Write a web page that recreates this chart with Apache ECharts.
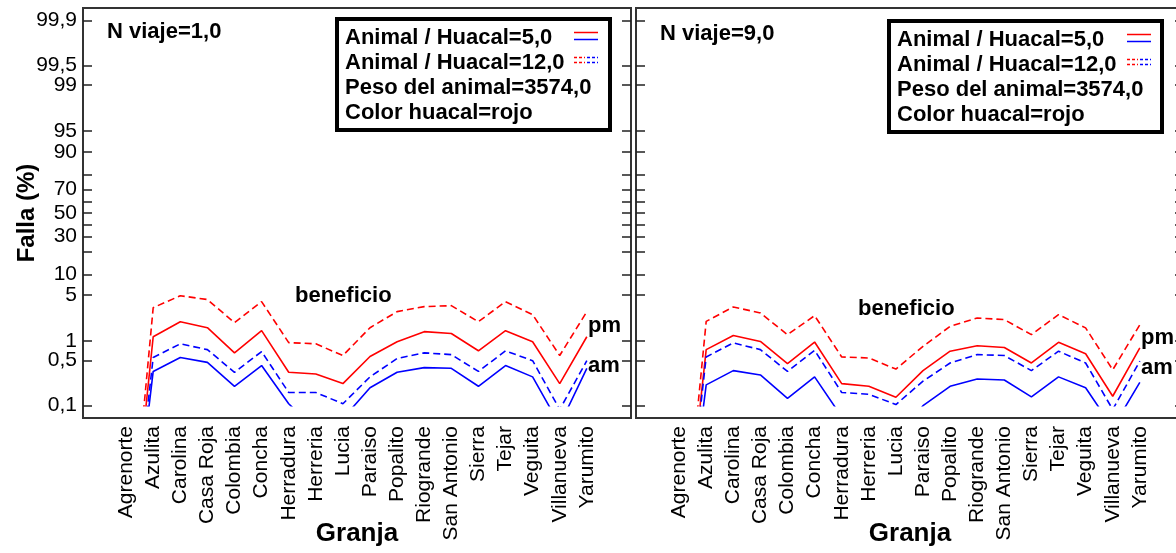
<!DOCTYPE html>
<html>
<head>
<meta charset="utf-8">
<script src="https://cdn.jsdelivr.net/npm/echarts@6/dist/echarts.min.js"></script>
<style>
	html, body { margin: 0; padding: 0; background: #fff; }
	#chart { width: 1176px; height: 553px; }
</style>
</head>
<body>
<div id="chart"></div>
<script>
// farms on the x axis
const granjas = ['Agrenorte', 'Azulita', 'Carolina', 'Casa Roja', 'Colombia', 'Concha', 'Herradura', 'Herreria',
	'Lucia', 'Paraiso', 'Popalito', 'Riogrande', 'San Antonio', 'Sierra', 'Tejar', 'Veguita', 'Villanueva', 'Yarumito'];

// failure in %, N viaje = 1,0  (pm = red, am = blue; solid = 5 animals/huacal, dashed = 12)
const pm5_v1 = [0.0001, 1.17, 1.99, 1.61, 0.66, 1.45, 0.33, 0.31, 0.22, 0.58, 0.98, 1.40, 1.31, 0.71, 1.45, 0.98, 0.22, 1.17];
const pm12_v1 = [0.0001, 3.25, 4.9, 4.3, 1.92, 4.0, 0.95, 0.91, 0.60, 1.61, 2.83, 3.37, 3.48, 1.99, 4.0, 2.55, 0.60, 2.83];
const am5_v1 = [0.0001, 0.34, 0.56, 0.47, 0.20, 0.42, 0.107, 0.042, 0.063, 0.19, 0.33, 0.39, 0.38, 0.20, 0.42, 0.28, 0.05, 0.38];
const am12_v1 = [0.0001, 0.56, 0.91, 0.74, 0.33, 0.69, 0.16, 0.16, 0.107, 0.28, 0.54, 0.66, 0.62, 0.34, 0.71, 0.50, 0.087, 0.50];

// failure in %, N viaje = 9,0
const pm5_v9 = [0.0001, 0.74, 1.22, 0.99, 0.45, 0.97, 0.22, 0.20, 0.135, 0.35, 0.70, 0.85, 0.80, 0.46, 0.96, 0.64, 0.14, 0.79];
const pm12_v9 = [0.0001, 2.01, 3.33, 2.70, 1.26, 2.46, 0.57, 0.55, 0.37, 0.83, 1.69, 2.27, 2.14, 1.26, 2.55, 1.60, 0.36, 1.79];
const am5_v9 = [0.0001, 0.21, 0.35, 0.30, 0.13, 0.28, 0.067, 0.03, 0.03, 0.10, 0.20, 0.26, 0.25, 0.137, 0.28, 0.19, 0.045, 0.23];
const am12_v9 = [0.0001, 0.57, 0.94, 0.74, 0.34, 0.72, 0.16, 0.15, 0.104, 0.24, 0.46, 0.62, 0.60, 0.35, 0.70, 0.46, 0.087, 0.49];

// probability (logit) scale ticks
const yTickPct = [0.1, 0.5, 1, 5, 10, 20, 30, 40, 50, 60, 70, 80, 90, 95, 99, 99.5, 99.9];
const yLabelPct = [0.1, 0.5, 1, 5, 10, 30, 50, 70, 90, 95, 99, 99.5, 99.9];

const legendRows = ['Animal / Huacal=5,0', 'Animal / Huacal=12,0', 'Peso del animal=3574,0', 'Color huacal=rojo'];
const panelTitles = ['N viaje=1,0', 'N viaje=9,0'];

const FONT = '"Liberation Sans", Arial, sans-serif';
const RED = '#ff0000';
const BLUE = '#0000ff';

const logit = (p) => Math.log(p / (100 - p));

const X_MIN = -1.59, X_MAX = 18.63;
const Y_MAX = 7.35;
const Y_CLIP = logit(0.1); // lines are cut at the 0,1 level
const TOP = 8, H = 410, W = 548;
const clipH = H * (Y_MAX - Y_CLIP) / (2 * Y_MAX);
const panelLeft = [83, 636];

const chart = echarts.init(document.getElementById('chart'));

function labelFor(v) {
	const p = yLabelPct.find(q => Math.abs(logit(q) - v) < 1e-6);
	return p === undefined ? '' : String(p).replace('.', ',');
}

function frameX(i) {
	return {
		type: 'value', gridIndex: i, min: X_MIN, max: X_MAX,
		axisLine: { show: false, onZero: false },
		axisTick: { show: false },
		splitLine: { show: false },
		axisLabel: {
			customValues: granjas.map((g, k) => k),
			formatter: (v) => granjas[Math.round(v)],
			rotate: 90, margin: 8,
			fontSize: 21, fontFamily: FONT, color: '#000'
		},
		name: 'Granja', nameLocation: 'middle', nameGap: 103, nameMoveOverlap: false,
		nameTextStyle: { fontSize: 26, fontWeight: 'bold', fontFamily: FONT, color: '#000' }
	};
}

// a right-side axis whose ticks point into the panel
function tickAxis(gridIndex, inside) {
	return {
		type: 'value', gridIndex: gridIndex, position: 'right',
		min: -Y_MAX, max: Y_MAX,
		axisLine: { show: false, onZero: false },
		splitLine: { show: false },
		axisTick: {
			show: true, inside: inside, length: 9,
			customValues: yTickPct.map(logit),
			lineStyle: { color: '#222', width: 1.5 }
		},
		axisLabel: { show: false }
	};
}

const grids = [];
const xAxes = [];
const yAxes = [];
// 0,1: frame grids
panelLeft.forEach((left, i) => {
	grids.push({
		left: left, top: TOP, width: W, height: H, outerBoundsMode: 'none',
		show: true, borderColor: '#333', borderWidth: 2, backgroundColor: 'transparent'
	});
	xAxes.push(frameX(i));
	yAxes.push(tickAxis(i, true));
});
// 2,3: grids used only to clip the lines at 0,1 %
panelLeft.forEach((left, i) => {
	grids.push({ left: left, top: TOP, width: W, height: clipH, outerBoundsMode: 'none' });
	xAxes.push({ type: 'value', gridIndex: 2 + i, min: X_MIN, max: X_MAX, show: false });
	yAxes.push({ type: 'value', gridIndex: 2 + i, min: Y_CLIP, max: Y_MAX, show: false });
});
// 4,5: narrow grids ending at each panel's left edge, for the left-side ticks (pointing right, into the panel)
panelLeft.forEach((left, i) => {
	grids.push({ left: left - 40, top: TOP, width: 40, height: H, outerBoundsMode: 'none' });
	xAxes.push({ type: 'value', gridIndex: 4 + i, min: 0, max: 1, show: false });
	yAxes.push(tickAxis(4 + i, false));
});
// y labels and title on the left panel
yAxes.push({
	type: 'value', gridIndex: 0, position: 'left',
	min: -Y_MAX, max: Y_MAX,
	axisLine: { show: false, onZero: false },
	axisTick: { show: false },
	splitLine: { show: false },
	axisLabel: {
		customValues: yLabelPct.map(logit),
		formatter: labelFor,
		margin: 6, fontSize: 21, fontFamily: FONT, color: '#000'
	},
	name: 'Falla (%)', nameLocation: 'middle', nameGap: 44, nameMoveOverlap: false,
	nameTextStyle: { fontSize: 24, fontWeight: 'bold', fontFamily: FONT, color: '#000' }
});

const seriesDefs = [
	[pm12_v1, pm5_v1, am12_v1, am5_v1],
	[pm12_v9, pm5_v9, am12_v9, am5_v9]
];
const styles = [
	{ color: RED, dashed: true },
	{ color: RED, dashed: false },
	{ color: BLUE, dashed: true },
	{ color: BLUE, dashed: false }
];

const series = [];
seriesDefs.forEach((arrs, p) => {
	arrs.forEach((arr, k) => {
		series.push({
			type: 'line',
			xAxisIndex: 2 + p,
			yAxisIndex: 2 + p,
			data: arr.map((v, i) => [i, logit(v)]),
			symbol: 'none',
			silent: true,
			lineStyle: { color: styles[k].color, width: 1.6, type: styles[k].dashed ? [7, 4] : 'solid' }
		});
	});
});

function txt(x, y, text, size) {
	return {
		type: 'text', x: x, y: y, z: 10,
		style: { text: text, fontSize: size || 22, fontWeight: 'bold', fontFamily: FONT, fill: '#000', verticalAlign: 'middle' }
	};
}

function seg(x1, x2, y, color, dash) {
	return {
		type: 'line', z: 11,
		shape: { x1: x1, y1: y, x2: x2, y2: y },
		style: { stroke: color, lineWidth: 1.5, lineDash: dash ? [3, 2] : null }
	};
}

// legend boxes: [box x, box y, text x, sample x]
const boxes = [[337, 19, 345, 574], [889, 21, 897, 1127]];
const graphics = [];
boxes.forEach((b, i) => {
	graphics.push({
		type: 'rect', z: 9,
		shape: { x: b[0], y: b[1], width: 273, height: 111 },
		style: { fill: '#fff', stroke: '#000', lineWidth: 4 }
	});
	legendRows.forEach((t, r) => {
		graphics.push(txt(b[2], b[1] + 18.5 + r * 25, t));
	});
	const sx = b[3];
	graphics.push(seg(sx, sx + 24, b[1] + 13.5, RED, false));
	graphics.push(seg(sx, sx + 24, b[1] + 20.5, BLUE, false));
	graphics.push(seg(sx, sx + 11, b[1] + 38.5, RED, true));
	graphics.push(seg(sx, sx + 11, b[1] + 43.5, RED, true));
	graphics.push(seg(sx + 13, sx + 24, b[1] + 38.5, BLUE, true));
	graphics.push(seg(sx + 13, sx + 24, b[1] + 43.5, BLUE, true));
});
graphics.push(txt(107, 31.5, panelTitles[0]));
graphics.push(txt(660, 33.5, panelTitles[1]));
graphics.push(txt(295, 296, 'beneficio'));
graphics.push(txt(858, 309, 'beneficio'));
graphics.push(txt(588, 326, 'pm'));
graphics.push(txt(588, 366, 'am'));
graphics.push(txt(1141, 338, 'pm'));
graphics.push(txt(1141, 368, 'am'));

chart.setOption({
	animation: false,
	backgroundColor: '#fff',
	grid: grids,
	xAxis: xAxes,
	yAxis: yAxes,
	series: series,
	graphic: graphics
});
</script>
</body>
</html>
